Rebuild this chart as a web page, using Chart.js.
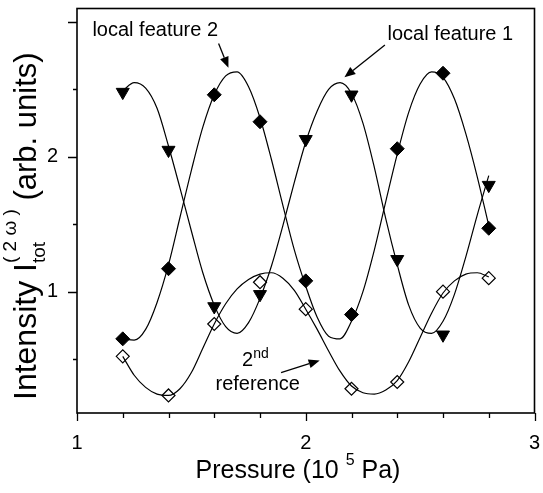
<!DOCTYPE html>
<html>
<head>
<meta charset="utf-8">
<script src="https://cdn.jsdelivr.net/npm/chart.js@4.4.0/dist/chart.umd.min.js"></script>
<style>
  html, body { margin: 0; padding: 0; background: #fff; }
</style>
</head>
<body>
<canvas id="chart" width="543" height="493"></canvas>
<script>
// measured points (pressure in 10^5 Pa)
const pressure   = [1.2, 1.4, 1.6, 1.8, 2.0, 2.2, 2.4, 2.6, 2.8];
const feature1   = [2.48, 2.05, 0.89, 0.98, 2.13, 2.46, 1.24, 0.68, 1.79]; // filled triangles
const feature2   = [0.65, 1.17, 2.46, 2.26, 1.08, 0.83, 2.06, 2.62, 1.47]; // filled diamonds
const reference2 = [0.52, 0.23, 0.76, 1.07, 0.87, 0.28, 0.33, 1.00, 1.10]; // open diamonds

// fitted curves
const fitX = [1.20, 1.25, 1.30, 1.35, 1.40, 1.45, 1.50, 1.55, 1.60, 1.65, 1.70,
              1.75, 1.80, 1.85, 1.90, 1.95, 2.00, 2.05, 2.10, 2.15, 2.20, 2.25,
              2.30, 2.35, 2.40, 2.45, 2.50, 2.55, 2.60, 2.65, 2.70, 2.75, 2.80];
const fit1 = [2.49, 2.55, 2.51, 2.36, 2.08, 1.77, 1.45, 1.14, 0.90, 0.74, 0.69,
              0.77, 0.95, 1.19, 1.49, 1.81, 2.11, 2.34, 2.50, 2.55, 2.47, 2.25,
              1.92, 1.54, 1.20, 0.90, 0.73, 0.69, 0.78, 0.98, 1.26, 1.57, 1.86];
const fit2 = [0.65, 0.64, 0.72, 0.92, 1.20, 1.55, 1.90, 2.22, 2.46, 2.60, 2.63,
              2.52, 2.29, 1.98, 1.64, 1.31, 1.04, 0.81, 0.67, 0.65, 0.78, 1.00,
              1.31, 1.67, 2.02, 2.33, 2.54, 2.63, 2.59, 2.43, 2.17, 1.85, 1.49];
const fitRef = [0.52, 0.38, 0.29, 0.24, 0.23, 0.28, 0.40, 0.58, 0.76, 0.91, 1.02,
                1.09, 1.13, 1.14, 1.10, 1.01, 0.87, 0.72, 0.56, 0.41, 0.30, 0.25,
                0.24, 0.27, 0.34, 0.48, 0.66, 0.84, 0.99, 1.08, 1.13, 1.14, 1.11];

// axes
const xTicks  = [1, 1.2, 1.4, 1.6, 1.8, 2, 2.2, 2.4, 2.6, 2.8, 3];
const xMajor  = [1, 2, 3];
const yTicks  = [0.5, 1, 1.5, 2, 2.5, 3];
const yMajor  = [1, 2, 3];
const yLabels = [1, 2];

// annotations (data coords)
const notes = [
  { text: 'local feature 2', x: 1.342, y: 2.94 },
  { text: 'local feature 1', x: 2.632, y: 2.91 },
  { text: 'reference', x: 1.79, y: 0.31 }
];
const arrows = [
  { from: [1.619, 2.84], to: [1.662, 2.66] },
  { from: [2.346, 2.83], to: [2.169, 2.59] },
  { from: [1.892, 0.40], to: [2.061, 0.49] }
];

const FONT = '"Liberation Sans", Arial, Helvetica, sans-serif';
Chart.defaults.font.family = FONT;
Chart.defaults.color = '#000';

function pts(xs, ys) {
  return xs.map((v, i) => ({ x: v, y: ys[i] }));
}

function curve(ys) {
  return {
    type: 'line',
    data: pts(fitX, ys),
    borderColor: '#000',
    borderWidth: 1.2,
    pointRadius: 0,
    fill: false,
    cubicInterpolationMode: 'monotone'
  };
}

// draws a run of text pieces, returns the width used
function runText(ctx, parts, x0, y0) {
  let x = x0;
  parts.forEach(p => {
    if (p.stack) {
      let w = 0;
      p.stack.forEach(s => {
        ctx.font = s.size + 'px ' + FONT;
        ctx.fillText(s.t, x, y0 + s.dy);
        w = Math.max(w, ctx.measureText(s.t).width);
      });
      x += w;
    } else {
      ctx.font = p.size + 'px ' + FONT;
      ctx.fillText(p.t, x, y0 + (p.dy || 0));
      x += ctx.measureText(p.t).width;
    }
  });
  return x - x0;
}

function measureRun(ctx, parts) {
  let w = 0;
  parts.forEach(p => {
    if (p.stack) {
      let m = 0;
      p.stack.forEach(s => { ctx.font = s.size + 'px ' + FONT; m = Math.max(m, ctx.measureText(s.t).width); });
      w += m;
    } else {
      ctx.font = p.size + 'px ' + FONT;
      w += ctx.measureText(p.t).width;
    }
  });
  return w;
}

const decor = {
  id: 'decor',
  afterDraw(chart) {
    const { ctx, chartArea: a, scales: { x, y } } = chart;
    ctx.save();
    ctx.strokeStyle = '#000';
    ctx.fillStyle = '#000';

    // frame
    ctx.lineWidth = 1.6;
    ctx.strokeRect(a.left, a.top, a.right - a.left, a.bottom - a.top);

    // tick marks
    ctx.lineWidth = 1.3;
    ctx.beginPath();
    xTicks.forEach(v => {
      const px = Math.round(x.getPixelForValue(v)) + 0.5;
      const len = xMajor.includes(v) ? 8 : 5;
      ctx.moveTo(px, a.bottom);
      ctx.lineTo(px, a.bottom + len);
    });
    yTicks.forEach(v => {
      const py = Math.round(y.getPixelForValue(v)) + 0.5;
      const len = yMajor.includes(v) ? 9 : 4;
      ctx.moveTo(a.left, py);
      ctx.lineTo(a.left - len, py);
    });
    ctx.stroke();

    // x title
    const xParts = [
      { t: 'Pressure (10 ', size: 25 },
      { t: '5', size: 16, dy: -13 },
      { t: ' Pa)', size: 25 }
    ];
    ctx.textBaseline = 'alphabetic';
    ctx.textAlign = 'left';
    const xw = measureRun(ctx, xParts);
    runText(ctx, xParts, 298 - xw / 2, 478);

    // y title, rotated, reads upward from the bottom
    const yParts = [
      { t: 'Intensity I', size: 32 },
      { stack: [ { t: 'tot', size: 19, dy: 9 }, { t: '( 2 \u03c9 )', size: 19, dy: -20 } ] },
      { t: ' (arb. units)', size: 31 }
    ];
    ctx.save();
    ctx.translate(36, 400);
    ctx.rotate(-Math.PI / 2);
    runText(ctx, yParts, 0, 0);
    ctx.restore();

    // annotations
    ctx.font = '20px ' + FONT;
    ctx.textAlign = 'center';
    ctx.textBaseline = 'middle';
    notes.forEach(n => ctx.fillText(n.text, x.getPixelForValue(n.x), y.getPixelForValue(n.y)));
    // "2nd" with superscript
    const nx = x.getPixelForValue(1.78), ny = y.getPixelForValue(0.50);
    ctx.textAlign = 'left';
    ctx.textBaseline = 'alphabetic';
    const sup = [ { t: '2', size: 20 }, { t: 'nd', size: 14, dy: -8 } ];
    const sw = measureRun(ctx, sup);
    runText(ctx, sup, nx - sw / 2, ny + 7);

    // arrows
    ctx.lineWidth = 1.3;
    arrows.forEach(ar => {
      const x0 = x.getPixelForValue(ar.from[0]), y0 = y.getPixelForValue(ar.from[1]);
      const x1 = x.getPixelForValue(ar.to[0]), y1 = y.getPixelForValue(ar.to[1]);
      const ang = Math.atan2(y1 - y0, x1 - x0);
      const hl = 11, hw = 4.5;
      const bx = x1 - hl * Math.cos(ang), by = y1 - hl * Math.sin(ang);
      ctx.beginPath();
      ctx.moveTo(x0, y0);
      ctx.lineTo(bx, by);
      ctx.stroke();
      ctx.beginPath();
      ctx.moveTo(x1, y1);
      ctx.lineTo(bx + hw * Math.sin(ang), by - hw * Math.cos(ang));
      ctx.lineTo(bx - hw * Math.sin(ang), by + hw * Math.cos(ang));
      ctx.closePath();
      ctx.fill();
    });
    ctx.restore();
  }
};

new Chart(document.getElementById('chart').getContext('2d'), {
  type: 'scatter',
  data: {
    datasets: [
      curve(fit1),
      curve(fit2),
      curve(fitRef),
      {
        label: 'local feature 1',
        data: pts(pressure, feature1),
        pointStyle: 'triangle',
        rotation: 180,
        pointRadius: 7.5,
        backgroundColor: '#000',
        borderColor: '#000',
        borderWidth: 1
      },
      {
        label: 'local feature 2',
        data: pts(pressure, feature2),
        pointStyle: 'rectRot',
        pointRadius: 7,
        backgroundColor: '#000',
        borderColor: '#000',
        borderWidth: 1
      },
      {
        label: '2nd reference',
        data: pts(pressure, reference2),
        pointStyle: 'rectRot',
        pointRadius: 6.5,
        backgroundColor: '#fff',
        borderColor: '#000',
        borderWidth: 1.2
      }
    ]
  },
  options: {
    responsive: false,
    devicePixelRatio: 1,
    animation: false,
    layout: { padding: { top: 5, right: 5, left: 0, bottom: 0 } },
    plugins: { legend: { display: false }, tooltip: { enabled: false } },
    scales: {
      x: {
        type: 'linear',
        min: 1, max: 3,
        grid: { display: false },
        border: { display: false },
        afterBuildTicks: s => { s.ticks = xTicks.map(v => ({ value: v })); },
        afterFit: s => { s.height = 80; s.paddingLeft = 0; s.paddingRight = 0; },
        ticks: {
          autoSkip: false,
          maxRotation: 0,
          padding: 10,
          font: { size: 20 },
          callback: v => xMajor.includes(v) ? String(v) : ''
        }
      },
      y: {
        type: 'linear',
        min: 0.1, max: 3.1,
        grid: { display: false },
        border: { display: false },
        afterBuildTicks: s => { s.ticks = yTicks.map(v => ({ value: v })); },
        afterFit: s => { s.width = 77; s.paddingTop = 0; s.paddingBottom = 0; },
        ticks: {
          autoSkip: false,
          padding: 11,
          font: { size: 20 },
          callback: v => yLabels.includes(v) ? String(v) : ''
        }
      }
    }
  },
  plugins: [decor]
});
</script>
</body>
</html>
